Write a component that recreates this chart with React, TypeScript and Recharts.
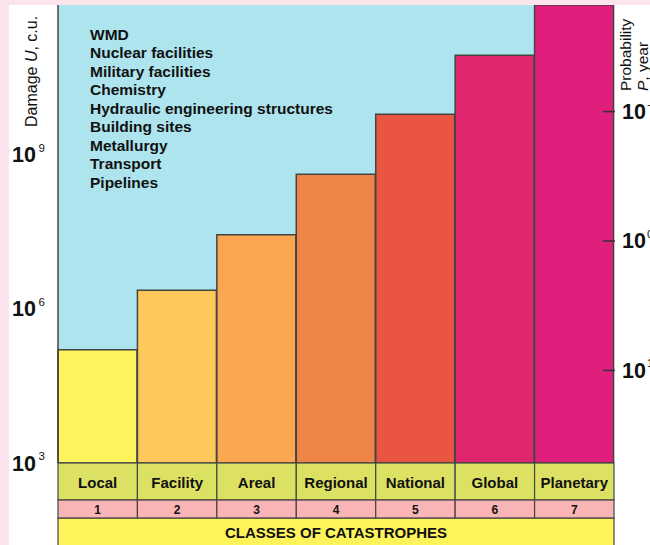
import React from 'react';
import { BarChart, Bar, XAxis, YAxis, Cell, CartesianGrid } from 'recharts';

// ---- data ----
const categories = ['Local', 'Facility', 'Areal', 'Regional', 'National', 'Global', 'Planetary'];
const classNumbers = ['1', '2', '3', '4', '5', '6', '7'];
const damageValues = [1.6e5, 2.3e6, 2.8e7, 4.2e8, 6.2e9, 8.7e10, 8.3e11];
const damageTicks = [1e3, 1e6, 1e9];
const probabilityTicks = [0.1, 1, 10];
const sectors = [
  'WMD',
  'Nuclear facilities',
  'Military facilities',
  'Chemistry',
  'Hydraulic engineering structures',
  'Building sites',
  'Metallurgy',
  'Transport',
  'Pipelines',
];
const axisTitle = 'CLASSES OF CATASTROPHES';

// ---- styles ----
const barColors = ['#fdf35d', '#fec95a', '#fba651', '#ee8448', '#e95541', '#e0266f', '#e01f7c'];
const W = 650;
const H = 545;
const LEFT_W = 58;
const RIGHT_W = 36;
const TOP = 5;
const XAXIS_H = 82;
const PLOT_W = W - LEFT_W - RIGHT_W;
const FONT = '"Liberation Sans", Arial, Helvetica, sans-serif';
const INK = '#111';
const BORDER = '#444';

const data = categories.map((name, i) => ({ name, damage: damageValues[i] }));

function LeftTick(props: any) {
  const { x, y, payload } = props;
  const e = Math.round(Math.log10(payload.value));
  return (
    <g fontFamily={FONT} fill={INK}>
      <text x={x - 22} y={y + 7.5} textAnchor="end" fontSize={21.5} fontWeight="bold">10</text>
      <text x={x - 19.5} y={y - 3} fontSize={11.5}>{e}</text>
    </g>
  );
}

function RightTick(props: any) {
  const { x, y, payload } = props;
  const e = Math.round(Math.log10(payload.value));
  return (
    <g fontFamily={FONT} fill={INK}>
      <line x1={x - 11} x2={x + 1} y1={y} y2={y} stroke="#333" strokeWidth={1.5} />
      <text x={x + 8} y={y + 7.5} fontSize={21.5} fontWeight="bold">10</text>
      <text x={x + 33} y={y - 3} fontSize={11.5}>{e < 0 ? '\u2212' + Math.abs(e) : e}</text>
    </g>
  );
}

function CategoryTick(props: any) {
  const { x, y, payload } = props;
  const i = categories.indexOf(payload.value);
  const cw = PLOT_W / categories.length;
  return (
    <g fontFamily={FONT} fill={INK}>
      <rect x={x - cw / 2} y={y} width={cw} height={37} fill="#dce163" stroke={BORDER} strokeWidth={1.2} />
      <text x={x} y={y + 25} textAnchor="middle" fontSize={15} fontWeight="bold" fill={INK}>{payload.value}</text>
      <rect x={x - cw / 2} y={y + 37} width={cw} height={18} fill="#f9b5b6" stroke={BORDER} strokeWidth={1.2} />
      <text x={x} y={y + 51} textAnchor="middle" fontSize={12} fontWeight="bold" fill={INK}>{classNumbers[i]}</text>
    </g>
  );
}

function ClassesLabel() {
  return (
    <g fontFamily={FONT}>
      <rect x={LEFT_W} y={H - 27} width={PLOT_W} height={28} fill="#fdf45c" stroke={BORDER} strokeWidth={1.2} />
      <text x={LEFT_W + PLOT_W / 2} y={H - 7.5} textAnchor="middle" fontSize={15} fontWeight="bold" fill={INK}>{axisTitle}</text>
    </g>
  );
}

function DamageTitle() {
  return (
    <text transform={`translate(37,127) rotate(-90)`} fontFamily={FONT} fontSize={16} fill={INK}>
      Damage <tspan fontStyle="italic">U</tspan>, c.u.
    </text>
  );
}

function ProbabilityTitle() {
  return (
    <g fontFamily={FONT} fontSize={15.5} fill={INK}>
      <text transform={`translate(631,91) rotate(-90)`}>Probability</text>
      <text transform={`translate(648,91) rotate(-90)`}>
        <tspan fontStyle="italic">P</tspan>, year
      </text>
    </g>
  );
}

export default function App() {
  return (
    <div style={{ position: 'absolute', left: 0, top: 0, width: W, height: H, background: '#fce4ec', overflow: 'hidden' }}>
      <div style={{ position: 'absolute', left: 9, top: TOP, width: W - 9, height: H - TOP, background: '#ffffff' }} />
      <div style={{ position: 'absolute', left: 0, top: 0 }}>
        <BarChart
          width={W}
          height={H}
          data={data}
          margin={{ top: TOP, right: 0, bottom: 0, left: 0 }}
          barCategoryGap={0}
          barGap={0}
        >
          <CartesianGrid fill="#ade4ee" stroke="none" horizontal={false} vertical={false} yAxisId="left" />
          <XAxis
            dataKey="name"
            height={XAXIS_H}
            tickSize={0}
            tickMargin={0}
            tickLine={false}
            axisLine={false}
            interval={0}
            tick={<CategoryTick />}
            label={{ content: () => <ClassesLabel /> }}
          />
          <YAxis
            yAxisId="left"
            scale="log"
            domain={[1e3, 8.3e11]}
            ticks={damageTicks}
            allowDataOverflow
            width={LEFT_W}
            tickSize={0}
            tickMargin={0}
            tickLine={false}
            axisLine={{ stroke: BORDER, strokeWidth: 1.5 }}
            tick={<LeftTick />}
            label={{ content: () => <DamageTitle /> }}
          />
          <YAxis
            yAxisId="right"
            orientation="right"
            scale="log"
            reversed
            domain={[0.015, 52]}
            ticks={probabilityTicks}
            allowDataOverflow
            width={RIGHT_W}
            tickSize={0}
            tickMargin={0}
            tickLine={false}
            axisLine={false}
            tick={<RightTick />}
            label={{ content: () => <ProbabilityTitle /> }}
          />
          <Bar dataKey="damage" yAxisId="left" isAnimationActive={false} stroke={BORDER} strokeWidth={1.5}>
            {data.map((d, i) => (
              <Cell key={d.name} fill={barColors[i]} />
            ))}
          </Bar>
        </BarChart>
      </div>
      <div
        style={{
          position: 'absolute',
          left: 90,
          top: 26,
          fontFamily: FONT,
          fontSize: 15.5,
          fontWeight: 'bold',
          lineHeight: '18.45px',
          color: INK,
          whiteSpace: 'nowrap',
        }}
      >
        {sectors.map((s) => (
          <div key={s}>{s}</div>
        ))}
      </div>
    </div>
  );
}
